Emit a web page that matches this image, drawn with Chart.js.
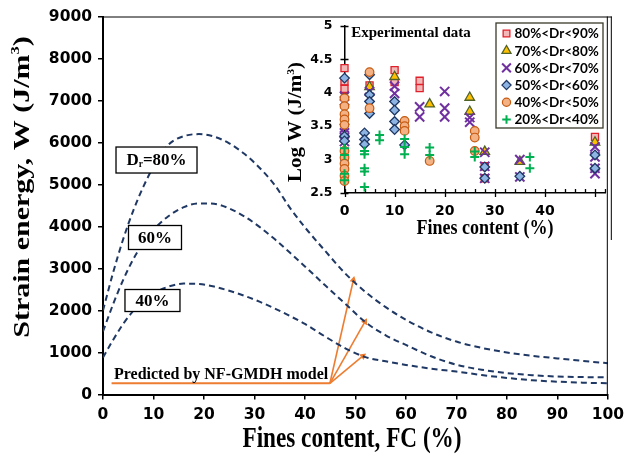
<!DOCTYPE html>
<html lang="en">
<head>
<meta charset="UTF-8">
<title>Strain energy vs fines content</title>
<script src="https://cdn.jsdelivr.net/npm/chart.js@4"></script>
<style>
    body { margin: 0; background: #fff; }
    .wrap { position: relative; width: 630px; height: 459px; }
    .wrap canvas { position: absolute; left: 0; top: 0; }
</style>
</head>
<body>
<div class="wrap">
    <canvas id="mainChart" width="630" height="459"></canvas>
    <canvas id="insetChart" width="630" height="459"></canvas>
</div>
<script>
// ---- main chart: curves predicted by NF-GMDH (W in J/m3) ----
const fcGrid = [0, 2, 4, 6, 8, 10, 13, 16, 19, 22, 25, 28, 31, 34, 37, 40, 44, 48, 52, 56, 60, 65, 70, 75, 80, 85, 90, 95, 100];
const w80 = [2000, 2900, 3700, 4380, 4950, 5420, 5950, 6150, 6200, 6140, 5980, 5730, 5400, 4990, 4450, 3980, 3420, 2880, 2440, 2080, 1780, 1480, 1260, 1110, 1000, 920, 860, 800, 745];
const w60 = [1500, 2150, 2730, 3220, 3610, 3920, 4250, 4460, 4550, 4540, 4430, 4240, 3990, 3700, 3380, 3050, 2600, 2160, 1720, 1410, 1180, 910, 710, 590, 510, 460, 428, 415, 408];
const w40 = [880, 1300, 1680, 1990, 2230, 2410, 2570, 2640, 2630, 2570, 2470, 2350, 2210, 2050, 1870, 1680, 1380, 1100, 890, 790, 705, 615, 545, 465, 395, 340, 305, 282, 267];

// orange annotation: underline and three arrows
const underlineX = [1.7, 44.95];
const underlineY = [267, 267];
const arrowTipX = [49.6, 51.9, 51.5];
const arrowTipY = [2726, 1733, 917];

// ---- inset: experimental data (log W) ----
const seriesNames = ['80%<Dr<90%', '70%<Dr<80%', '60%<Dr<70%', '50%<Dr<60%', '40%<Dr<50%', '20%<Dr<40%'];

const fc80 = [0, 0, 0, 5, 10, 10, 15, 15, 28, 28, 50];
const lw80 = [4.37, 4.17, 4.06, 4.11, 4.34, 4.16, 4.18, 4.07, 2.90, 2.72, 3.34];

const fc70 = [5, 10, 17, 25, 25, 28, 35, 50];
const lw70 = [4.09, 4.24, 3.83, 3.93, 3.72, 3.12, 2.97, 3.26];

const fc60 = [0, 0, 0, 0, 0, 0, 5, 5, 10, 10, 15, 15, 20, 20, 20, 25, 25, 28, 28, 28, 35, 35, 50, 50, 50, 50];
const lw60 = [3.95, 3.88, 3.47, 3.40, 3.33, 3.27, 4.02, 3.93, 4.10, 3.99, 3.79, 3.64, 4.02, 3.77, 3.64, 3.63, 3.56, 3.11, 2.90, 2.72, 3.00, 2.74, 3.19, 3.04, 2.87, 2.79];

const fc50 = [0, 0, 0, 4, 4, 4, 5, 5, 5, 5, 10, 10, 10, 10, 12, 28, 28, 35, 50, 50];
const lw50 = [4.22, 3.35, 3.28, 3.40, 3.30, 3.23, 4.27, 3.97, 3.87, 3.69, 3.87, 3.74, 3.57, 3.45, 3.22, 2.89, 2.72, 2.75, 3.07, 2.87];

const fc40 = [0, 0, 0, 0, 0, 0, 0, 0, 0, 0, 0, 5, 5, 12, 12, 12, 17, 26, 26, 26];
const lw40 = [3.92, 3.80, 3.68, 3.60, 3.52, 3.13, 3.03, 2.94, 2.86, 2.76, 2.68, 4.31, 3.77, 3.58, 3.50, 3.43, 2.98, 3.43, 3.33, 3.13];

const fc20 = [0, 0, 0, 0, 4, 4, 4, 4, 4, 7, 7, 12, 12, 12, 17, 17, 26, 26, 37, 37];
const lw20 = [3.17, 3.07, 2.79, 2.69, 3.13, 3.08, 2.87, 2.82, 2.59, 3.37, 3.29, 3.31, 3.19, 3.08, 3.18, 3.07, 3.12, 3.04, 3.04, 2.87];

const NAVY = '#1F3864';
const ORANGE = '#ED7D31';
const SERIF = '"Liberation Serif", "Times New Roman", serif';
const TICKFONT = '"DejaVu Sans", sans-serif';

function pts(xs, ys) {
    return xs.map((x, i) => ({ x: x, y: ys[i] }));
}

// draws text made of segments (normal / sub / sup), centred at cx, cy
function drawRich(ctx, segs, cx, cy, size, opts) {
    opts = opts || {};
    const fam = opts.family || SERIF;
    const fontOf = s => 'bold ' + ((s.sup || s.sub) ? size * 0.55 : size) + 'px ' + fam;
    ctx.save();
    let total = 0;
    segs.forEach(s => { ctx.font = fontOf(s); s.w = ctx.measureText(s.t).width; total += s.w; });
    ctx.translate(cx, cy);
    if (opts.rotate) ctx.rotate(opts.rotate);
    ctx.scale(opts.sx || 1, opts.sy || 1);
    ctx.fillStyle = '#000';
    ctx.textBaseline = 'middle';
    ctx.textAlign = 'left';
    let x = -total / 2;
    segs.forEach(s => {
        ctx.font = fontOf(s);
        const dy = s.sup ? -size * 0.28 : (s.sub ? size * 0.22 : 0);
        ctx.fillText(s.t, x, dy);
        x += s.w;
    });
    ctx.restore();
}

// arrow head rotation, taken from the two points of the arrow dataset
function arrowRotation(c) {
    const d = c.dataset.data;
    const sx = c.chart.scales.x, sy = c.chart.scales.y;
    const dx = sx.getPixelForValue(d[1].x) - sx.getPixelForValue(d[0].x);
    const dy = sy.getPixelForValue(d[1].y) - sy.getPixelForValue(d[0].y);
    return Math.atan2(dx, -dy) * 180 / Math.PI;
}

// label boxes on the main chart (anchored in data units)
const curveLabels = [
    { x: 10.6, y: 5583, w: 81, h: 26, segs: [{ t: 'D' }, { t: 'r', sub: true }, { t: '=80%' }] },
    { x: 10.3, y: 3738, w: 53, h: 24, segs: [{ t: '60%' }] },
    { x: 9.8, y: 2238, w: 55, h: 22, segs: [{ t: '40%' }] }
];

const mainDecor = {
    id: 'mainDecor',
    afterDatasetsDraw(chart) {
        const ctx = chart.ctx, a = chart.chartArea;
        const sx = chart.scales.x, sy = chart.scales.y;
        // top and right frame of the plot area (top line runs on to the inset frame)
        ctx.save();
        ctx.strokeStyle = '#000';
        ctx.lineWidth = 1;
        ctx.beginPath();
        ctx.moveTo(a.left, a.top + 0.5);
        ctx.lineTo(a.right + 4, a.top + 0.5);
        ctx.moveTo(a.right - 0.5, a.top);
        ctx.lineTo(a.right - 0.5, a.bottom);
        ctx.moveTo(a.right + 3.5, a.top);
        ctx.lineTo(a.right + 3.5, 240);
        ctx.stroke();
        // boxed curve labels
        curveLabels.forEach(l => {
            const cx = sx.getPixelForValue(l.x), cy = sy.getPixelForValue(l.y);
            ctx.fillStyle = '#fff';
            ctx.fillRect(cx - l.w / 2, cy - l.h / 2, l.w, l.h);
            ctx.lineWidth = 1.3;
            ctx.strokeRect(cx - l.w / 2, cy - l.h / 2, l.w, l.h);
            drawRich(ctx, l.segs, cx, cy + 1, 17);
        });
        ctx.restore();
        drawRich(ctx, [{ t: 'Predicted by NF-GMDH model' }], sx.getPixelForValue(23.4), sy.getPixelForValue(464), 16);
        // axis titles
        drawRich(ctx, [{ t: 'Strain energy, W (J/m' }, { t: '3', sup: true }, { t: ')' }], 22.5, 187, 30, { rotate: -Math.PI / 2, sy: 0.8 });
        drawRich(ctx, [{ t: 'Fines content, FC (%)' }], 352, 440, 29, { sx: 0.8 });
    }
};

const curveStyle = { borderColor: NAVY, borderWidth: 2, borderDash: [6, 4], pointRadius: 0, fill: false, cubicInterpolationMode: 'monotone' };

const arrowSets = arrowTipX.map((tx, i) => ({
    data: [{ x: underlineX[1], y: underlineY[1] }, { x: tx, y: arrowTipY[i] }],
    borderColor: ORANGE,
    backgroundColor: ORANGE,
    borderWidth: 1.6,
    pointStyle: 'triangle',
    pointRadius: c => c.dataIndex === 1 ? 4 : 0,
    pointBorderWidth: 0,
    pointRotation: arrowRotation
}));

new Chart(document.getElementById('mainChart'), {
    type: 'line',
    data: {
        datasets: [
            Object.assign({ data: pts(fcGrid, w80) }, curveStyle),
            Object.assign({ data: pts(fcGrid, w60) }, curveStyle),
            Object.assign({ data: pts(fcGrid, w40) }, curveStyle),
            { data: pts(underlineX, underlineY), borderColor: ORANGE, borderWidth: 2, pointRadius: 0 }
        ].concat(arrowSets)
    },
    options: {
        responsive: false,
        animation: false,
        layout: { padding: { top: 16.5, right: 22, left: 0, bottom: 0 } },
        plugins: { legend: { display: false }, tooltip: { enabled: false } },
        scales: {
            x: {
                type: 'linear', min: 0, max: 100,
                ticks: { stepSize: 10, color: '#000', padding: 6, maxRotation: 0, font: { family: TICKFONT, weight: 'bold', size: 15.5 } },
                grid: { drawOnChartArea: false, tickLength: 5, color: '#000', lineWidth: 1.5 },
                border: { color: '#000', width: 2 },
                afterFit: s => { s.height = 459 - 394.5; }
            },
            y: {
                min: 0, max: 9000,
                ticks: { stepSize: 1000, color: '#000', padding: 6, callback: v => String(v), font: { family: TICKFONT, weight: 'bold', size: 15.5 } },
                grid: { drawOnChartArea: false, tickLength: 5, color: '#000', lineWidth: 1.5 },
                border: { color: '#000', width: 2 },
                afterFit: s => { s.width = 103; }
            }
        }
    },
    plugins: [mainDecor]
});

// ---- inset chart ----
const insetStyles = [
    { pointStyle: 'rect', radius: 5, bg: '#F2B8B8', border: '#E0202A', bw: 1.3 },
    { pointStyle: 'triangle', radius: 5.5, bg: '#FFC000', border: '#4F6228', bw: 1.3 },
    { pointStyle: 'crossRot', radius: 6.5, bg: '#7030A0', border: '#7030A0', bw: 2 },
    { pointStyle: 'rectRot', radius: 4.8, bg: '#8DB4E2', border: '#1F3864', bw: 1.3 },
    { pointStyle: 'circle', radius: 4.3, bg: '#F4B183', border: '#C55A11', bw: 1.2 },
    { pointStyle: 'cross', radius: 4.5, bg: '#00B050', border: '#00B050', bw: 2 }
];
const insetX = [fc80, fc70, fc60, fc50, fc40, fc20];
const insetY = [lw80, lw70, lw60, lw50, lw40, lw20];

const insetDecor = {
    id: 'insetDecor',
    beforeDatasetsDraw(chart) {
        const ctx = chart.ctx, a = chart.chartArea;
        const sx = chart.scales.x, sy = chart.scales.y;
        ctx.save();
        ctx.strokeStyle = '#000';
        ctx.lineWidth = 1.3;
        ctx.beginPath();
        // x ticks: majors cross the axis, minors inside
        for (let v = 0; v <= 52; v += 2) {
            const px = Math.round(sx.getPixelForValue(v)) + 0.5;
            ctx.moveTo(px, a.bottom - 4);
            ctx.lineTo(px, v % 10 === 0 ? a.bottom + 4 : a.bottom);
        }
        for (let v = 2.5; v <= 5; v += 0.5) {
            const py = Math.round(sy.getPixelForValue(v)) + 0.5;
            ctx.moveTo(a.left - 4, py);
            ctx.lineTo(a.left + 4, py);
        }
        ctx.stroke();
        ctx.restore();
    },
    afterDraw(chart) {
        const ctx = chart.ctx;
        ctx.save();
        // legend box
        const lx = 496, ly = 23, lw = 107, lh = 105;
        ctx.fillStyle = '#fff';
        ctx.fillRect(lx, ly, lw, lh);
        ctx.strokeStyle = '#3A3A2A';
        ctx.lineWidth = 1.3;
        ctx.strokeRect(lx, ly, lw, lh);
        seriesNames.forEach((name, i) => {
            const st = insetStyles[i];
            const ry = 33.5 + i * 17.2;
            ctx.fillStyle = st.bg;
            ctx.strokeStyle = st.border;
            ctx.lineWidth = st.bw;
            Chart.helpers.drawPoint(ctx, { pointStyle: st.pointStyle, radius: st.radius * 0.95, borderWidth: st.bw, rotation: 0 }, 506.5, ry);
            ctx.fillStyle = '#000';
            ctx.font = 'bold 13.5px Lato, sans-serif';
            ctx.textBaseline = 'middle';
            ctx.textAlign = 'left';
            ctx.fillText(name, 514.5, ry + 0.5);
        });
        ctx.restore();

        drawRich(ctx, [{ t: 'Experimental data' }], 411, 33, 15);
        drawRich(ctx, [{ t: 'Fines content (%)' }], 485, 229, 20, { sx: 0.9 });
        drawRich(ctx, [{ t: 'Log W (J/m' }, { t: '3', sup: true }, { t: ')' }], 296, 122, 21, { rotate: -Math.PI / 2, sy: 0.85 });
    }
};

new Chart(document.getElementById('insetChart'), {
    type: 'scatter',
    data: {
        datasets: insetStyles.map((st, i) => ({
            label: seriesNames[i],
            data: pts(insetX[i], insetY[i]),
            pointStyle: st.pointStyle,
            pointRadius: st.radius,
            backgroundColor: st.bg,
            borderColor: st.border,
            pointBorderWidth: st.bw,
            clip: false,
            order: 6 - i
        }))
    },
    options: {
        responsive: false,
        animation: false,
        layout: { padding: { top: 26, right: 25, left: 0, bottom: 0 } },
        plugins: { legend: { display: false }, tooltip: { enabled: false } },
        scales: {
            x: {
                type: 'linear', min: 0, max: 52,
                afterBuildTicks: s => { s.ticks = s.ticks.filter(t => t.value % 10 === 0); },
                ticks: { stepSize: 10, color: '#000', padding: 10, maxRotation: 0, autoSkip: false, font: { family: TICKFONT, weight: 'bold', size: 14 } },
                grid: { display: false, drawTicks: false },
                border: { color: '#000', width: 1.5 },
                afterFit: s => { s.height = 459 - 193; }
            },
            y: {
                min: 2.5, max: 5,
                ticks: { stepSize: 0.5, color: '#000', padding: 12, callback: v => String(v), font: { family: TICKFONT, weight: 'bold', size: 12.5 } },
                grid: { display: false, drawTicks: false },
                border: { color: '#000', width: 1.5 },
                afterFit: s => { s.width = 344.5; }
            }
        }
    },
    plugins: [insetDecor]
});
</script>
</body>
</html>
